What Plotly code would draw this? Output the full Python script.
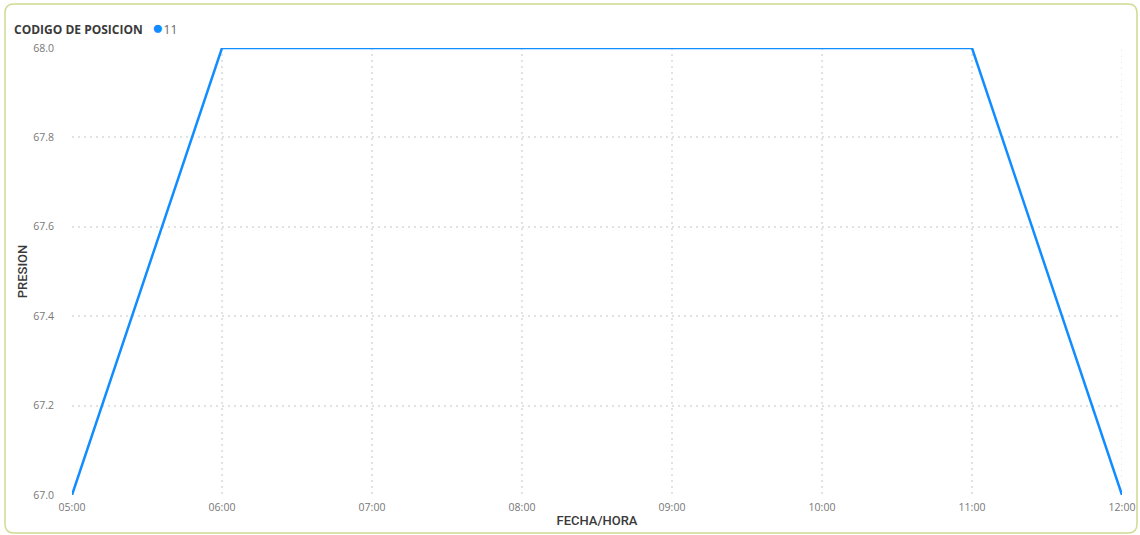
import plotly.graph_objects as go

# Hourly pressure readings for position code 11
times = ["2024-01-01 05:00", "2024-01-01 06:00", "2024-01-01 07:00", "2024-01-01 08:00",
         "2024-01-01 09:00", "2024-01-01 10:00", "2024-01-01 11:00", "2024-01-01 12:00"]
presion = [67.0, 68.0, 68.0, 68.0, 68.0, 68.0, 68.0, 67.0]
serie = "11"
legend_title = "CODIGO DE POSICION"
y_ticks = [67.0, 67.2, 67.4, 67.6, 67.8, 68.0]

BLUE = "#118DFF"
GRID = "#e2e2e2"
DOTS = "1.5px,4.5px"
W, H = 1140, 535
L, R, T, B = 72, 18, 48, 40
PW, PH = W - L - R, H - T - B
TITLE_FONT = dict(family="Roboto", size=13, color="#3a3a3a", weight=500)

fig = go.Figure()
fig.add_trace(go.Scatter(
    x=times, y=presion, mode="lines", name=serie,
    line=dict(color=BLUE, width=2.5), showlegend=False,
))

# rounded card border, path in pixels relative to the plot's bottom-left corner
x0, x1 = 5 - L, 1137 - L
y0, y1 = -(533 - (H - B)), (H - B) - 4
r = 9
path = (f"M {x0 + r},{y0} L {x1 - r},{y0} Q {x1},{y0} {x1},{y0 + r} "
        f"L {x1},{y1 - r} Q {x1},{y1} {x1 - r},{y1} L {x0 + r},{y1} "
        f"Q {x0},{y1} {x0},{y1 - r} L {x0},{y0 + r} Q {x0},{y0} {x0 + r},{y0} Z")
fig.add_shape(type="path", path=path, xref="paper", yref="paper",
              xsizemode="pixel", ysizemode="pixel", xanchor=0, yanchor=0,
              line=dict(color="#cddc92", width=1.5), layer="below")

# legend header: title, series dot and name
fig.add_annotation(
    xref="paper", yref="paper", x=(12 - L) / PW, y=1 + (T - 27) / PH,
    xanchor="left", yanchor="middle", showarrow=False,
    text=(f"<b>{legend_title}</b>   <span style='color:{BLUE};font-size:19px'>●</span>"
          f"<span style='color:#666666'>{serie}</span>"),
    font=dict(family="Open Sans", size=12, color="#3a3a3a"),
)

# right-hand vertical grid edge at 12:00
fig.add_shape(type="line", xref="x", yref="paper", x0=times[-1], x1=times[-1], y0=0, y1=1,
              line=dict(color=GRID, width=1.5, dash=DOTS), layer="below")

fig.update_layout(
    width=W, height=H,
    margin=dict(l=L, r=R, t=T, b=B),
    paper_bgcolor="white", plot_bgcolor="white",
    font=dict(family="Open Sans", color="#666666", size=10),
    showlegend=False,
    xaxis=dict(
        title=dict(text="FECHA/HORA", font=TITLE_FONT, standoff=3),
        type="date", tickformat="%H:%M", dtick=3600000,
        range=[times[0], times[-1]], automargin=False,
        showgrid=True, gridcolor=GRID, griddash=DOTS, gridwidth=1.5,
        showline=False, zeroline=False, ticks="", ticklabelstandoff=4,
        tickfont=dict(size=10.5, color="#777777"),
    ),
    yaxis=dict(
        title=dict(text="PRESION", font=TITLE_FONT, standoff=2),
        range=[67.0, 68.0], tickvals=y_ticks, tickformat=".1f", automargin=False,
        showgrid=True, gridcolor=GRID, griddash=DOTS, gridwidth=1.5,
        showline=False, zeroline=False, ticks="", ticklabelstandoff=17,
        tickfont=dict(size=10.5, color="#777777"),
    ),
)

fig.write_html("out.html")
